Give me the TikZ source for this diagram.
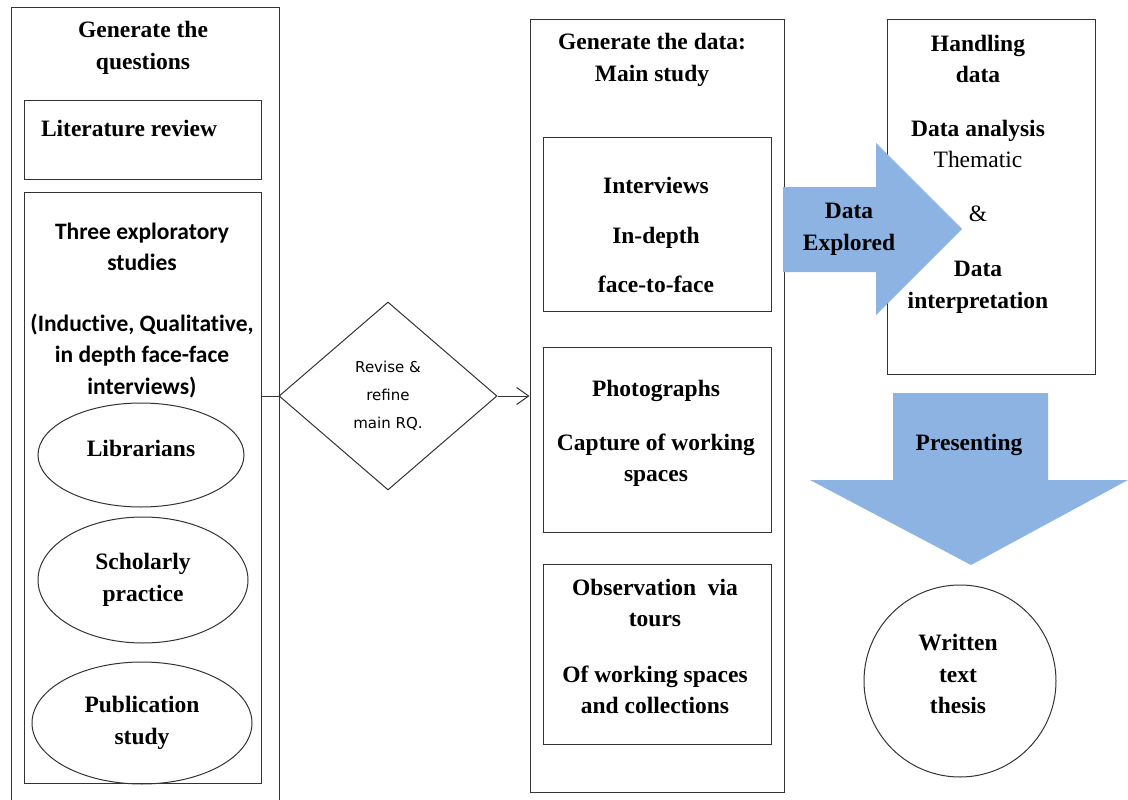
\documentclass[tikz,border=0pt]{standalone}
\usepackage{fontspec}
\setmainfont{Liberation Serif}
\newfontfamily\calibrifont[Ligatures=NoCommon]{Carlito}
\newfontfamily\tahomafont{DejaVu Sans}
\usepackage{xcolor}
\usepackage{tikz}
\usetikzlibrary{shapes.geometric, arrows.meta}
\definecolor{arrowblue}{RGB}{141,179,226}

\begin{document}
\begin{tikzpicture}[x=1pt,y=-1pt,>={Straight Barb[length=12pt,width=17pt]}]
	\tikzstyle{frame}=[rectangle,draw=black!80,line width=1pt,inner sep=0pt]
	\tikzstyle{oval}=[ellipse,draw=black!80,line width=1pt,inner sep=0pt,align=center,font=\bfseries\fontsize{23.5}{31.5}\selectfont]
	\tikzstyle{serif}=[align=center,inner sep=0pt,font=\bfseries\fontsize{23.5}{31.5}\selectfont]
	\tikzstyle{sans}=[align=center,inner sep=0pt,font=\calibrifont\bfseries\fontsize{23.5}{31.5}\selectfont]
	\tikzstyle{small}=[align=center,inner sep=0pt,font=\tahomafont\fontsize{15}{28}\selectfont]
	\useasboundingbox (0,0) rectangle (1128,800);
	\clip (0,0) rectangle (1128,800);
	\node[frame,minimum width=268pt,minimum height=800pt](quest) at (145,408) {};
	\node[serif](questtitle) at (143,48) {Generate the\\questions};
	\node[frame,minimum width=237pt,minimum height=78pt](lit) at (142.5,140) {};
	\node[serif](littext) at (129,128) {Literature review};
	\node[frame,minimum width=237pt,minimum height=591pt](three) at (142.5,487.5) {};
	\node[sans](threetext) at (142,310.5) {Three exploratory\\studies\\[29pt](Inductive, Qualitative,\\in depth face-face\\interviews)};
	\node[oval,minimum width=206pt,minimum height=104pt](libr) at (141,455) {};
	\node[serif](librtext) at (141,448) {Librarians};
	\node[oval,minimum width=210pt,minimum height=126pt](schol) at (143,580) {Scholarly\\practice};
	\node[oval,minimum width=220pt,minimum height=122pt](publ) at (142,723) {Publication\\study};
	\node[diamond,draw=black!80,line width=1pt,minimum width=218pt,minimum height=188pt,small](rq) at (388,396) {Revise \&\\refine\\main RQ.};
	\node[frame,minimum width=254pt,minimum height=772pt](gen) at (657,406) {};
	\node[serif](gentitle) at (652,60) {Generate the data:\\Main study};
	\node[frame,minimum width=228pt,minimum height=174pt](intv) at (657,224) {};
	\node[serif](intvtext) at (656,235) {Interviews\\[18pt]In-depth\\[18pt]face-to-face};
	\node[frame,minimum width=228pt,minimum height=185pt](photo) at (657,439.5) {};
	\node[serif](phototext) at (656,433.5) {Photographs\\[22pt]Capture of working\\spaces};
	\node[frame,minimum width=228pt,minimum height=180pt](obs) at (657.5,654) {};
	\node[serif](obstext) at (655,646.5) {Observation~ via\\tours\\[24pt]Of working spaces\\and collections};
	\node[frame,minimum width=208pt,minimum height=354pt](hand) at (991,197) {};
	\node[serif](handtext) at (978,174) {Handling\\data\\[22pt]Data analysis\\{\mdseries Thematic}\\[22pt]{\mdseries \&}\\[24pt]Data\\interpretation};
	\fill[arrowblue] (783,187) -- (876,187) -- (876,143) -- (962,229) -- (876,315) -- (876,272) -- (783,272) -- cycle;
	\node[serif](explored) at (849,229.5) {Data\\Explored};
	\fill[arrowblue] (893,393) -- (1048,393) -- (1048,480) -- (1128,480) -- (971,565) -- (810,480) -- (893,480) -- cycle;
	\node[serif](present) at (969,445) {Presenting};
	\node[circle,draw=black!80,line width=1pt,minimum size=192pt,inner sep=0pt](thesis) at (960,681) {};
	\node[serif](thesistext) at (958,674) {Written\\text\\thesis};
	\draw[black!80,line width=1pt](rq.west) -- (rq.west -| three.east);
	\draw[->,black!80,line width=1pt](rq.east) -- (rq.east -| gen.west);
\end{tikzpicture}
\end{document}
